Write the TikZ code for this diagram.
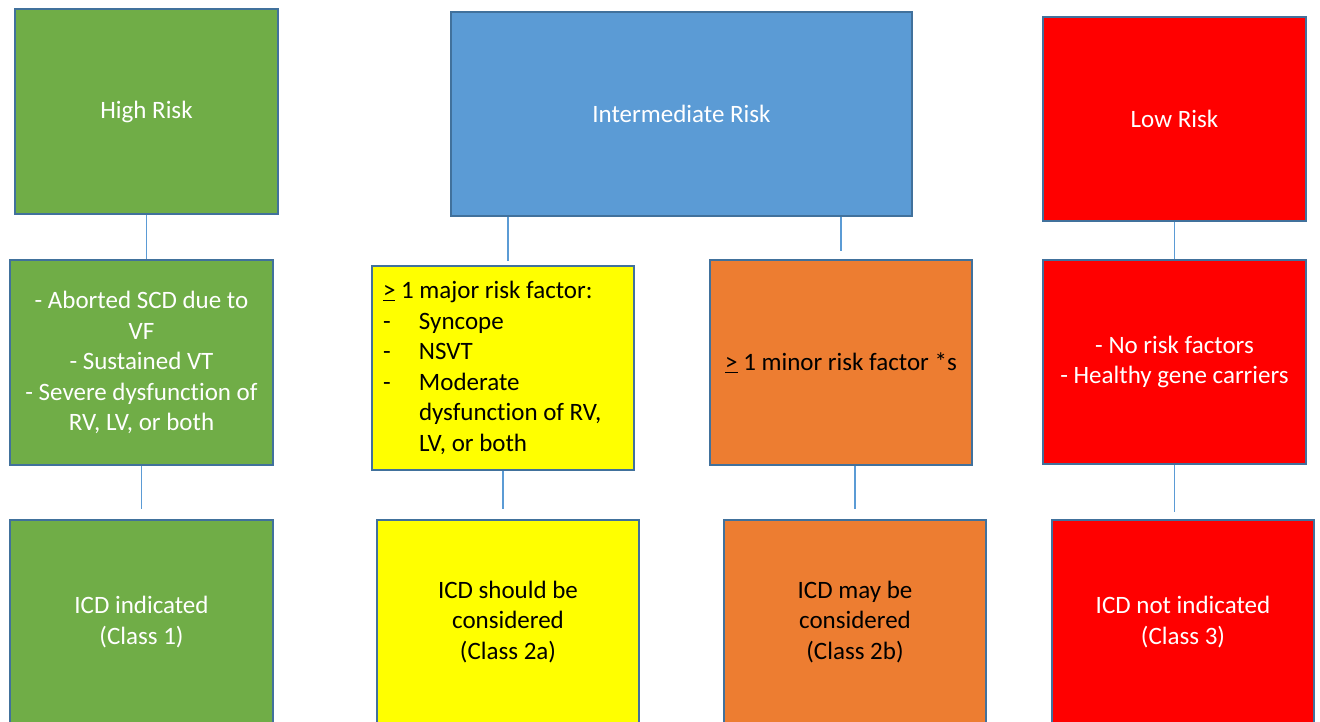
\documentclass[tikz,border=0pt]{standalone}
\usepackage{fontspec}
\setmainfont[Ligatures=NoCommon]{Carlito}
\usepackage{xcolor}
\usepackage{tikz}
\definecolor{RiskGreen}{HTML}{70AD47}
\definecolor{RiskBlue}{HTML}{5B9BD5}
\definecolor{RiskOrange}{HTML}{ED7D31}
\definecolor{RiskYellow}{HTML}{FFFF00}
\definecolor{RiskRed}{HTML}{FF0000}
\definecolor{RiskEdge}{HTML}{41719C}
\newcommand{\riskfont}{\fontsize{25}{30.5}\selectfont}
\newcommand{\dashitem}{\makebox[36pt][l]{-}}

\begin{document}
\begin{tikzpicture}[x=1pt, y=-1pt,
  riskbox/.style={draw=RiskEdge, line width=1.3pt, minimum width=263pt, minimum height=205pt, align=center, font=\riskfont, inner sep=0pt},
  gbox/.style={riskbox, fill=RiskGreen, text=white},
  bbox/.style={riskbox, fill=RiskBlue, text=white},
  ybox/.style={riskbox, fill=RiskYellow, text=black},
  obox/.style={riskbox, fill=RiskOrange, text=black},
  rbox/.style={riskbox, fill=RiskRed, text=white},
  link/.style={draw=RiskBlue, line width=1.3pt}
]
\useasboundingbox (0,0) rectangle (1320,721);
% top row
\node[gbox] (high) at (146.5,111.5) {High Risk};
\node[bbox, minimum width=461pt, minimum height=204pt] (inter) at (681.5,114) {Intermediate Risk};
\node[rbox, minimum height=204pt] (low) at (1174.5,119) {Low Risk};
% middle row
\node[gbox] (highmid) at (141.5,362.5) {- Aborted SCD due to\\VF\\- Sustained VT\\- Severe dysfunction of\\RV, LV, or both};
\node[ybox, minimum width=262pt, minimum height=204pt, text width=240pt, inner xsep=11pt, align=flush left] (major) at (503,368)
  {\underline{>} 1 major risk factor:\\\dashitem Syncope\\\dashitem NSVT\\\dashitem Moderate\\\hspace*{36pt}dysfunction of RV,\\\hspace*{36pt}LV, or both};
\node[obox, minimum width=262pt] (minor) at (841,362.5) {\underline{>} 1 minor risk factor *s};
\node[rbox, minimum height=204pt] (lowmid) at (1174.5,362) {- No risk factors\\- Healthy gene carriers};
% bottom row
\node[gbox, minimum height=204pt] (highicd) at (141.5,622) {ICD indicated\\(Class 1)};
\node[ybox, minimum width=262pt, minimum height=204pt] (majoricd) at (508,622) {ICD should be\\considered\\(Class 2a)};
\node[obox, minimum width=262pt, minimum height=204pt] (minoricd) at (855,622) {ICD may be\\considered\\(Class 2b)};
\node[rbox, minimum width=262pt, minimum height=204pt] (lowicd) at (1183,622) {ICD not indicated\\(Class 3)};

\draw[link] (high.south) -- (high.south |- highmid.north);
\draw[link] (majoricd.north |- inter.south) -- ([yshift=4pt]majoricd.north |- major.north);
\draw[link, shorten >=8pt] (minor.north |- inter.south) -- (minor.north);
\draw[link] (lowmid.north |- low.south) -- (lowmid.north);
\draw[link, shorten >=10pt] (highmid.south) -- (highmid.south |- highicd.north);
\draw[link, shorten >=10pt] (major.south) -- (major.south |- majoricd.north);
\draw[link, shorten >=10pt] (minoricd.north |- minor.south) -- (minoricd.north);
\draw[link, shorten >=7pt] (lowmid.south) -- (lowmid.south |- lowicd.north);
\end{tikzpicture}
\end{document}
